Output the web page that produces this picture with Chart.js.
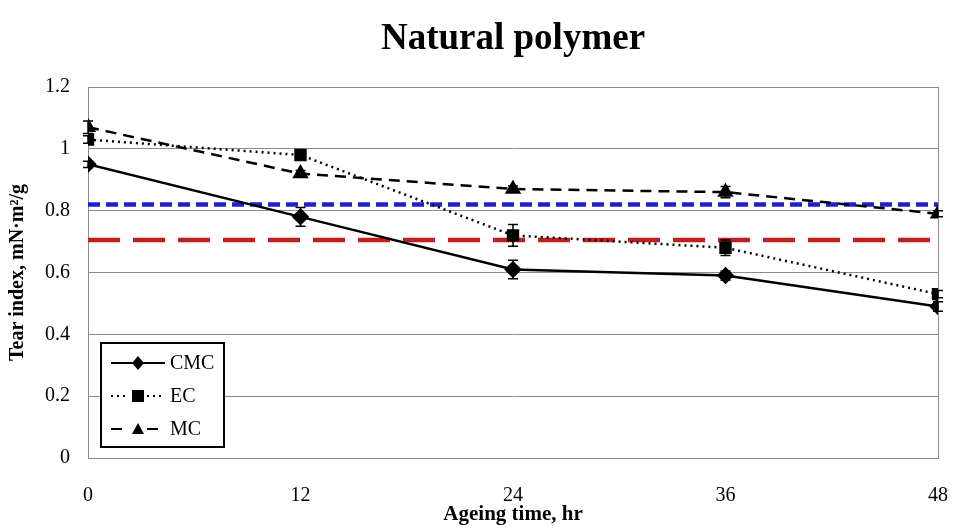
<!DOCTYPE html>
<html>
<head>
<meta charset="utf-8">
<script src="https://cdn.jsdelivr.net/npm/chart.js@4"></script>
<style>
  html, body { margin: 0; padding: 0; background: #fff; }
  #wrap { width: 962px; height: 532px; }
</style>
</head>
<body>
<div id="wrap"><canvas id="tear"></canvas></div>
<script>
// ageing time, hr
const hours = [0, 12, 24, 36, 48];
const xTicks = [0, 12, 24, 36, 48];

// tear index, mN·m²/g
const cmc = [0.95, 0.78, 0.61, 0.59, 0.49];
const ec = [1.03, 0.98, 0.72, 0.68, 0.53];
const mc = [1.07, 0.92, 0.87, 0.86, 0.79];

// standard deviations (error bars)
const cmcErr = [0.01, 0.03, 0.03, 0.015, 0.015];
const ecErr = [0.012, 0.012, 0.035, 0.025, 0.012];
const mcErr = [0.02, 0.01, 0.01, 0.018, 0.01];

// reference levels
const blueLevel = 0.82;
const redLevel = 0.705;

const chartTitle = "Natural polymer";
const serif = "'Liberation Serif', 'Times New Roman', serif";

const toPoints = (ys) => ys.map((y, i) => ({ x: hours[i], y: y }));
const flat = (v) => [{ x: hours[0], y: v }, { x: hours[hours.length - 1], y: v }];

// title centred over the plot area rather than the canvas
const plotTitle = {
  id: "plotTitle",
  afterDraw(chart) {
    const { ctx, chartArea: a } = chart;
    ctx.save();
    ctx.fillStyle = "#000";
    ctx.font = "bold 37px " + serif;
    ctx.textAlign = "center";
    ctx.textBaseline = "middle";
    ctx.fillText(chartTitle, (a.left + a.right) / 2, 39);
    ctx.restore();
  },
};

// vertical error bars with caps, drawn through the scales
const errorBars = {
  id: "errorBars",
  afterDatasetsDraw(chart) {
    const { ctx, scales } = chart;
    ctx.save();
    ctx.strokeStyle = "#000";
    ctx.lineWidth = 1.5;
    chart.data.datasets.forEach((ds) => {
      if (!ds.errors) return;
      ds.data.forEach((p, i) => {
        const e = ds.errors[i];
        const px = scales.x.getPixelForValue(p.x);
        const top = scales.y.getPixelForValue(p.y + e);
        const bot = scales.y.getPixelForValue(p.y - e);
        ctx.beginPath();
        ctx.moveTo(px, top);
        ctx.lineTo(px, bot);
        ctx.moveTo(px - 5, top);
        ctx.lineTo(px + 5, top);
        ctx.moveTo(px - 5, bot);
        ctx.lineTo(px + 5, bot);
        ctx.stroke();
      });
    });
    ctx.restore();
  },
};

// gray frame round the plot area
const frame = {
  id: "frame",
  beforeDatasetsDraw(chart) {
    const { ctx, chartArea: a } = chart;
    ctx.save();
    ctx.strokeStyle = "#8c8c8c";
    ctx.lineWidth = 1;
    ctx.strokeRect(a.left + 0.5, a.top + 0.5, a.right - a.left, a.bottom - a.top);
    ctx.restore();
  },
};

// boxed legend inside the plot, bottom left
const boxLegend = {
  id: "boxLegend",
  afterDraw(chart) {
    const { ctx } = chart;
    const x0 = 101, y0 = 343, w = 123, h = 104;
    ctx.save();
    ctx.fillStyle = "#fff";
    ctx.fillRect(x0, y0, w, h);
    ctx.strokeStyle = "#000";
    ctx.lineWidth = 2;
    ctx.strokeRect(x0, y0, w, h);
    const rows = chart.data.datasets.filter((d) => d.inLegend);
    rows.forEach((ds, i) => {
      const y = y0 + 20 + i * 33;
      ctx.strokeStyle = "#000";
      ctx.lineWidth = 2;
      ctx.setLineDash(ds.borderDash || []);
      ctx.beginPath();
      ctx.moveTo(x0 + 10, y);
      ctx.lineTo(x0 + 64, y);
      ctx.stroke();
      ctx.setLineDash([]);
      ctx.fillStyle = "#fff";
      ctx.fillRect(x0 + 28, y - 8, 18, 16);
      ctx.fillStyle = "#000";
      const cx = x0 + 37;
      const r = 6;
      ctx.beginPath();
      if (ds.pointStyle === "rectRot") {
        ctx.moveTo(cx, y - r - 1); ctx.lineTo(cx + r, y); ctx.lineTo(cx, y + r + 1); ctx.lineTo(cx - r, y);
      } else if (ds.pointStyle === "rect") {
        ctx.rect(cx - r, y - r, 2 * r, 2 * r);
      } else {
        ctx.moveTo(cx, y - r); ctx.lineTo(cx + r, y + r - 1); ctx.lineTo(cx - r, y + r - 1);
      }
      ctx.closePath();
      ctx.fill();
      if (ds.pointStyle === "rectRot") {
        ctx.beginPath(); ctx.moveTo(x0 + 28, y); ctx.lineTo(x0 + 46, y); ctx.stroke();
      }
      ctx.font = "20px " + serif;
      ctx.textBaseline = "middle";
      ctx.fillText(ds.label, x0 + 69, y + 1);
    });
    ctx.restore();
  },
};

new Chart(document.getElementById("tear"), {
  type: "line",
  data: {
    datasets: [
      {
        label: "CMC",
        data: toPoints(cmc),
        errors: cmcErr,
        inLegend: true,
        borderColor: "#000",
        backgroundColor: "#000",
        borderWidth: 2.5,
        pointStyle: "rectRot",
        pointRadius: 7,
      },
      {
        label: "EC",
        data: toPoints(ec),
        errors: ecErr,
        inLegend: true,
        borderColor: "#000",
        backgroundColor: "#000",
        borderWidth: 2.5,
        borderDash: [2, 4],
        pointStyle: "rect",
        pointRadius: 7,
      },
      {
        label: "MC",
        data: toPoints(mc),
        errors: mcErr,
        inLegend: true,
        borderColor: "#000",
        backgroundColor: "#000",
        borderWidth: 2.5,
        borderDash: [11, 7],
        pointStyle: "triangle",
        pointRadius: 7,
      },
      {
        label: "blue",
        data: flat(blueLevel),
        borderColor: "#1f1fd0",
        borderWidth: 4.5,
        borderDash: [12, 6],
        pointRadius: 0,
      },
      {
        label: "red",
        data: flat(redLevel),
        borderColor: "#c01f1f",
        borderWidth: 4.5,
        borderDash: [32, 13],
        pointRadius: 0,
      },
    ],
  },
  options: {
    responsive: true,
    maintainAspectRatio: false,
    animation: false,
    layout: { padding: { top: 87, right: 24 } },
    plugins: {
      legend: { display: false },
      tooltip: { enabled: false },
      title: { display: false },
    },
    scales: {
      x: {
        type: "linear",
        min: 0,
        max: 48,
        afterBuildTicks: (axis) => {
          axis.ticks = xTicks.map((v) => ({ value: v }));
        },
        afterFit: (axis) => {
          axis.height = 74;
          axis.paddingLeft = 0;
          axis.paddingRight = 0;
        },
        grid: { display: false },
        border: { display: true, color: "#8c8c8c" },
        ticks: { color: "#000", padding: 18, font: { family: serif, size: 20 } },
        title: {
          display: true,
          text: "Ageing time, hr",
          color: "#000",
          font: { family: serif, size: 21, weight: "bold" },
          padding: { top: 0, bottom: 5 },
        },
      },
      y: {
        min: 0,
        max: 1.2,
        afterFit: (axis) => {
          axis.width = 88;
          axis.paddingTop = 0;
          axis.paddingBottom = 0;
        },
        grid: { color: "#8c8c8c", drawTicks: false },
        border: { display: true, color: "#8c8c8c" },
        ticks: {
          stepSize: 0.2,
          color: "#000",
          padding: 18,
          font: { family: serif, size: 20 },
          callback: (v) => String(Math.round(v * 10) / 10),
        },
        title: {
          display: true,
          text: "Tear index, mN·m²/g",
          color: "#000",
          font: { family: serif, size: 20, weight: "bold" },
          padding: { top: 6, bottom: 0 },
        },
      },
    },
  },
  plugins: [frame, errorBars, boxLegend, plotTitle],
});
</script>
</body>
</html>
